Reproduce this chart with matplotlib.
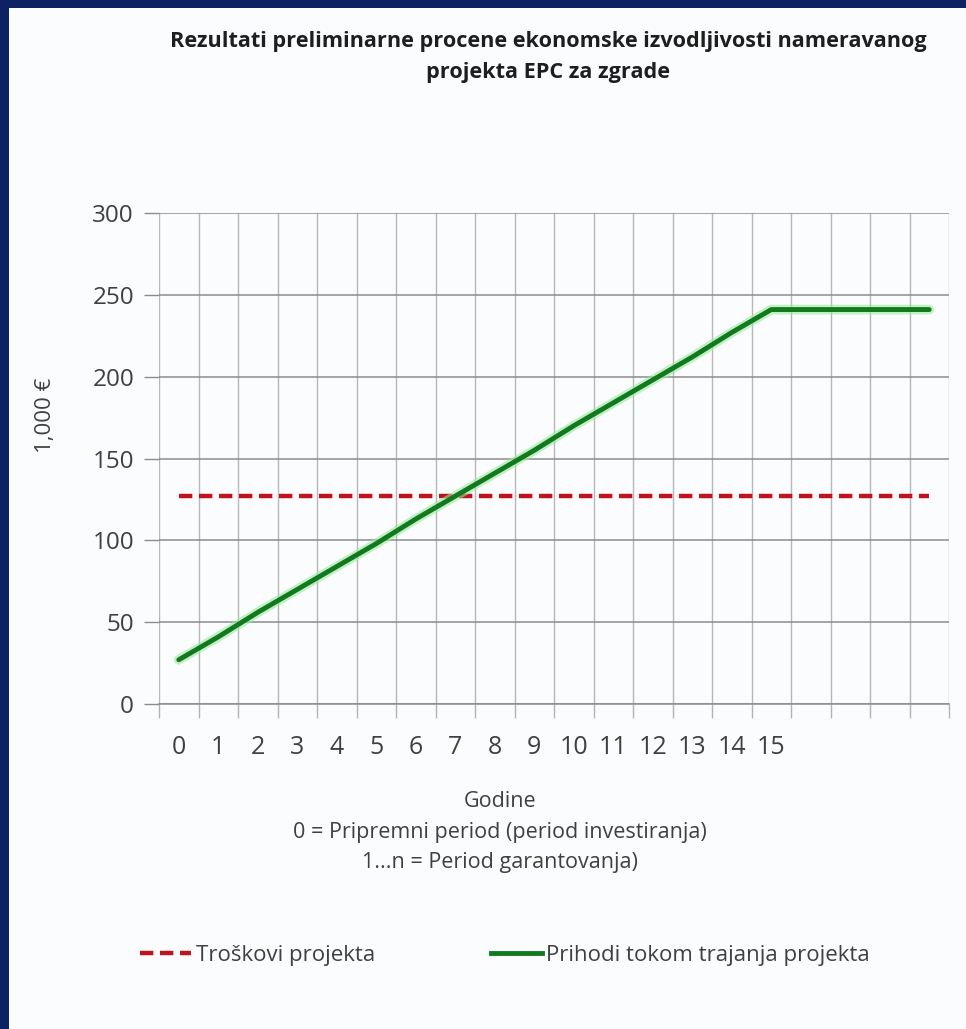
import matplotlib
matplotlib.use("Agg")
import matplotlib.pyplot as plt
from matplotlib.lines import Line2D
from matplotlib.patches import Rectangle
import numpy as np

plt.rcParams['font.family'] = ['Open Sans', 'DejaVu Sans']

# 20 category slots on the x axis, only years 0..15 carry a label
years = list(range(20))
year_labels = [str(y) for y in range(16)] + ['', '', '', '']

# project costs (1,000 EUR), constant over the whole horizon
costs = [127] * 20
# project revenues (1,000 EUR), rising through year 15 then flat
revenues = [27, 41, 56, 70, 84, 98, 113, 127, 141, 155, 170, 184, 198, 212, 227,
            241, 241, 241, 241, 241]

y_ticks = [0, 50, 100, 150, 200, 250, 300]

title = "Rezultati preliminarne procene ekonomske izvodljivosti nameravanog\nprojekta EPC za zgrade"
x_title = "Godine\n0 = Pripremni period (period investiranja)\n1...n = Period garantovanja)"
y_title = "1,000 €"
cost_name = "Troškovi projekta"
revenue_name = "Prihodi tokom trajanja projekta"

bg = '#fbfcfd'
navy = '#0c2262'
txt = '#404040'

fig = plt.figure(figsize=(9.66, 10.29), dpi=100)
fig.patch.set_facecolor(bg)

# navy frame on the left and top edges
fig.add_artist(Rectangle((0, 0), 9 / 966, 1, transform=fig.transFigure,
                         facecolor=navy, edgecolor='none', zorder=10))
fig.add_artist(Rectangle((0, 1 - 8 / 1029), 1, 8 / 1029, transform=fig.transFigure,
                         facecolor=navy, edgecolor='none', zorder=10))

ax = fig.add_axes([159 / 966, 1 - 704 / 1029, 790 / 966, 491 / 1029])
ax.set_facecolor(bg)

x = np.array(years)
ax.plot(x, costs, color='#c0141c', lw=3.2, dashes=(3.0, 1.5), zorder=4,
        solid_capstyle='butt')
# soft glow under the revenue line
ax.plot(x, revenues, color='#9be89b', lw=7, alpha=0.6, zorder=4,
        solid_capstyle='round')
ax.plot(x, revenues, color='#117a1e', lw=3.5, zorder=5, solid_capstyle='round')

ax.set_xlim(-0.5, 19.5)
ax.set_ylim(0, 300)

ax.set_yticks(y_ticks)
ax.tick_params(axis='y', length=11, width=1, color='#8c8c8c', labelsize=17.5,
               labelcolor=txt, pad=7)

ax.set_xticks(years)
ax.set_xticklabels(year_labels)
ax.tick_params(axis='x', which='major', length=0, labelsize=18, labelcolor=txt, pad=22)
ax.set_xticks(np.arange(-0.5, 20, 1), minor=True)
ax.tick_params(axis='x', which='minor', length=10, width=1, color='#b4b4b4')

ax.grid(axis='y', color='#8c8c8c', lw=1.1, zorder=1)
ax.grid(axis='x', which='minor', color='#b8b8b8', lw=1.0, zorder=1)
ax.grid(axis='x', which='major', visible=False)
ax.set_axisbelow(True)
for side in ('top', 'right', 'left'):
    ax.spines[side].set_visible(False)
ax.spines['bottom'].set_color('#8c8c8c')
ax.spines['bottom'].set_linewidth(1.1)

fig.text(548 / 966, 1 - 31 / 1029, title, ha='center', va='top', fontsize=15.6,
         fontweight='bold', color='#1e1e1e', linespacing=1.6)
fig.text(500 / 966, 1 - 791 / 1029, x_title, ha='center', va='top', fontsize=15.5,
         color=txt, linespacing=1.6)
fig.text(45 / 966, 1 - 415 / 1029, y_title, ha='center', va='center', fontsize=16,
         color=txt, rotation=90)

handles = [Line2D([], [], color='#c0141c', lw=3.2, dashes=(3.0, 1.5)),
           Line2D([], [], color='#117a1e', lw=3.5)]
fig.legend(handles, [cost_name, revenue_name], loc='center', ncol=2,
           bbox_to_anchor=(505 / 966, 1 - 955 / 1029), frameon=False, fontsize=16,
           handlelength=2.3, handletextpad=0.2, columnspacing=5.2,
           labelcolor=txt)

fig.savefig('out.png', dpi=100, facecolor=bg)
